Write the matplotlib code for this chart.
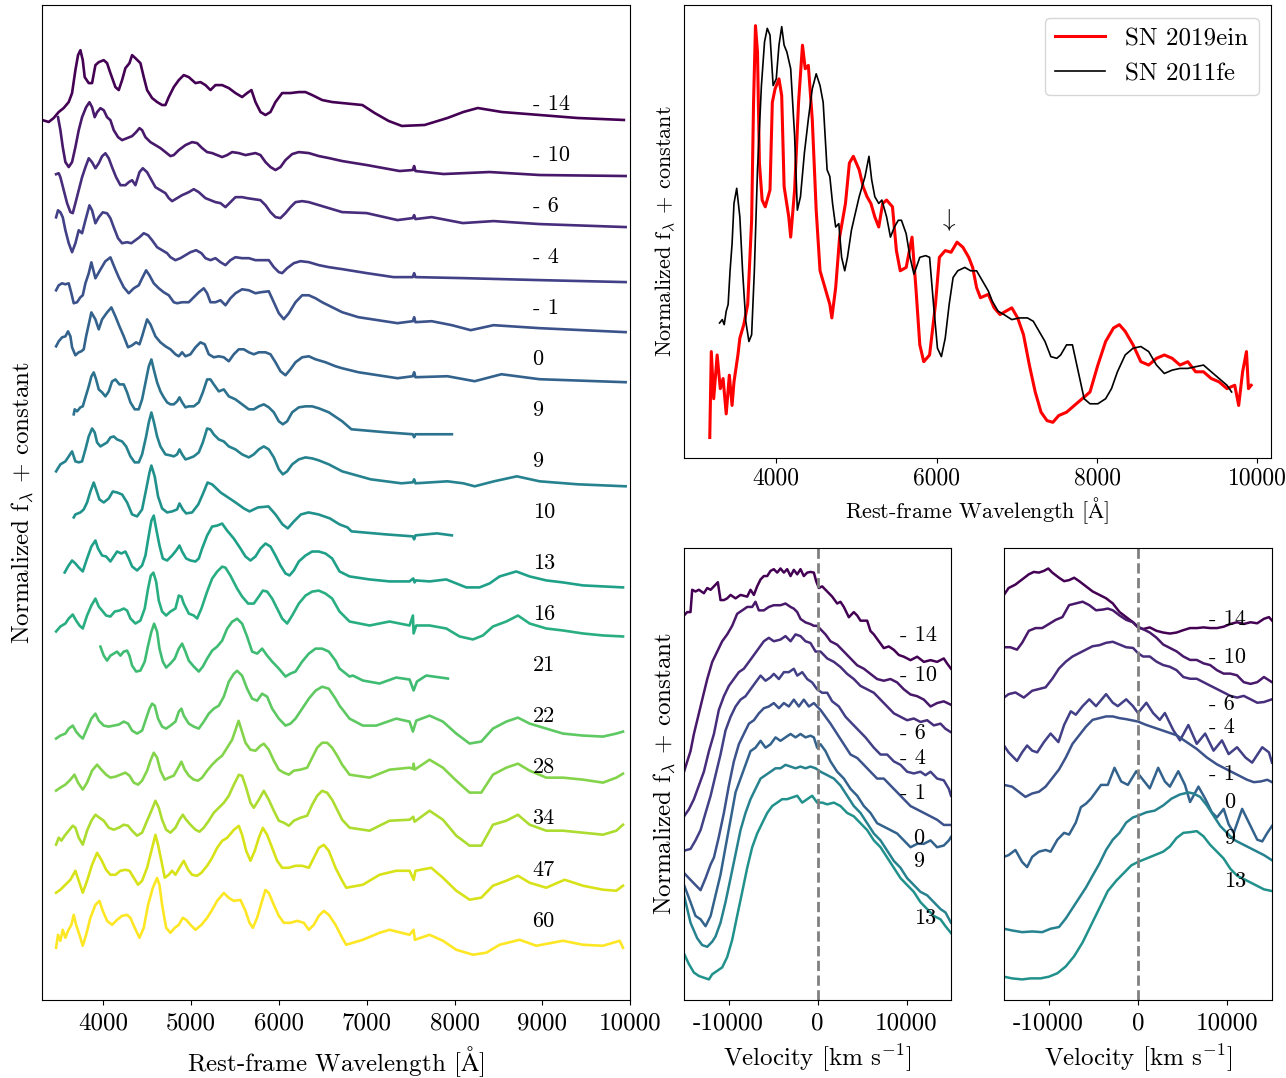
import matplotlib
matplotlib.use("Agg")
import matplotlib.pyplot as plt
import numpy as np

plt.rcParams['font.family'] = ['cmr10', 'DejaVu Serif']
plt.rcParams['mathtext.fontset'] = 'cm'
plt.rcParams['axes.unicode_minus'] = False
plt.rcParams['axes.formatter.use_mathtext'] = False
plt.rcParams['font.size'] = 18

# ---------------- left panel: spectral sequence, (wavelength, flux) in arbitrary flux units ----------------
phases = ["- 14", "- 10", "- 6", "- 4", "- 1", "0", "9", "9", "10", "13", "16",
          "21", "22", "28", "34", "47", "60"]

sp_m14 = [(3300,-16),(3376,-18),(3433,-14),(3490,-8),(3547,-4),(3604,2),(3642,11),(3680,34),(3710,49),(3737,54),(3764,44),(3786,27),(3832,21),(3870,21),(3908,39),(3946,42),(4003,44),(4041,41),(4079,31),(4136,17),(4174,14),(4212,24),(4250,36),(4296,41),(4326,49),(4364,46),(4421,41),(4459,27),(4497,14),(4554,6),(4611,2),(4668,-1),(4706,-1),(4744,7),(4801,17),(4858,24),(4915,29),(4972,27),(5048,21),(5105,22),(5162,19),(5219,14),(5276,19),(5352,19),(5428,16),(5504,11),(5580,7),(5637,11),(5686,14),(5732,2),(5789,-8),(5846,-11),(5903,-8),(5960,2),(6036,11),(6131,11),(6226,12),(6302,12),(6378,9),(6492,4),(6606,2),(6720,1),(6950,-1),(7090,-9),(7250,-17),(7400,-22),(7660,-21),(7920,-14),(8100,-8),(8265,-4),(8540,-8),(8970,-11),(9400,-14),(9930,-16)]
sp_m10 = [(3482,38),(3509,25),(3536,8),(3566,-7),(3604,-12),(3642,-7),(3680,8),(3718,25),(3756,38),(3802,48),(3840,53),(3870,48),(3900,38),(3927,43),(3965,47),(4003,45),(4041,38),(4079,35),(4117,25),(4166,18),(4212,15),(4269,17),(4326,19),(4372,23),(4410,27),(4440,25),(4478,18),(4535,13),(4592,10),(4649,7),(4706,3),(4763,-1),(4801,0),(4858,5),(4934,10),(5010,13),(5067,12),(5124,7),(5181,3),(5238,2),(5295,0),(5352,-2),(5409,0),(5466,3),(5542,2),(5618,0),(5675,1),(5732,2),(5789,0),(5846,-7),(5903,-12),(5960,-15),(6017,-12),(6074,-5),(6150,1),(6226,3),(6340,2),(6454,-1),(6568,-3),(6720,-6),(7000,-10),(7375,-16),(7525,-15),(7540,-11),(7555,-16),(7875,-19),(8400,-17),(8970,-20),(9950,-21)]
sp_m6 = [(3460,32),(3490,33),(3509,29),(3547,16),(3585,3),(3623,-6),(3650,-7),(3680,3),(3718,16),(3756,29),(3794,39),(3832,48),(3870,44),(3908,38),(3946,43),(3984,50),(4022,53),(4060,48),(4098,39),(4144,29),(4193,21),(4250,21),(4288,24),(4326,26),(4364,21),(4410,34),(4448,38),(4497,34),(4535,28),(4592,19),(4649,16),(4706,13),(4744,8),(4782,5),(4839,8),(4896,11),(4972,14),(5029,17),(5086,14),(5162,8),(5219,6),(5276,4),(5333,3),(5390,-1),(5447,4),(5504,9),(5580,9),(5637,8),(5713,7),(5789,6),(5846,1),(5903,-6),(5960,-11),(6017,-12),(6074,-7),(6131,-1),(6188,4),(6264,5),(6340,4),(6454,1),(6568,-2),(6720,-6),(7000,-7),(7350,-14),(7525,-12),(7540,-9),(7555,-13),(7740,-11),(8095,-17),(8445,-15),(8970,-18),(9950,-21)]
sp_m4 = [(3460,40),(3482,47),(3509,45),(3536,40),(3566,27),(3604,14),(3642,5),(3680,14),(3718,27),(3756,24),(3794,37),(3840,52),(3870,47),(3908,34),(3946,40),(3992,45),(4041,44),(4079,39),(4117,30),(4166,19),(4212,14),(4269,15),(4318,14),(4364,17),(4410,20),(4459,24),(4508,22),(4554,17),(4611,10),(4668,7),(4725,4),(4763,0),(4820,-3),(4877,-1),(4934,2),(4991,5),(5056,7),(5116,4),(5162,-1),(5219,-3),(5276,-1),(5333,-5),(5390,-8),(5447,-3),(5504,0),(5580,-1),(5656,-1),(5732,-3),(5808,-3),(5884,-3),(5941,-10),(5998,-15),(6036,-16),(6093,-11),(6169,-6),(6245,-4),(6340,-5),(6454,-8),(6568,-10),(6720,-12),(7000,-16),(7305,-20),(7525,-20),(7540,-16),(7555,-20),(8095,-21),(8970,-23),(9950,-25)]
sp_m1 = [(3460,18),(3490,23),(3528,25),(3566,24),(3604,25),(3634,15),(3661,5),(3699,6),(3737,11),(3764,13),(3794,25),(3832,35),(3862,46),(3908,30),(3960,38),(4020,47),(4079,51),(4130,40),(4174,31),(4231,21),(4288,15),(4345,20),(4402,23),(4440,30),(4486,38),(4524,33),(4573,25),(4630,20),(4687,16),(4744,13),(4801,6),(4839,5),(4896,6),(4972,6),(5029,11),(5086,16),(5143,20),(5181,15),(5219,6),(5276,6),(5333,8),(5390,3),(5447,10),(5504,15),(5580,19),(5656,18),(5732,15),(5789,16),(5884,17),(5941,6),(5998,-5),(6055,-11),(6112,-5),(6188,6),(6264,13),(6340,13),(6416,10),(6492,6),(6606,1),(6720,-4),(6905,-9),(7350,-15),(7525,-13),(7540,-9),(7555,-14),(7740,-13),(7970,-17),(8185,-22),(8445,-17),(8970,-20),(9950,-24)]
sp_p0 = [(3460,13),(3490,18),(3528,22),(3566,23),(3596,28),(3623,23),(3642,12),(3680,4),(3718,7),(3748,8),(3775,10),(3802,23),(3832,35),(3862,47),(3908,40),(3946,30),(3984,40),(4041,47),(4090,52),(4136,43),(4182,33),(4231,23),(4280,12),(4326,14),(4372,17),(4410,15),(4440,23),(4497,40),(4535,35),(4592,23),(4649,17),(4706,13),(4763,10),(4820,5),(4858,3),(4896,7),(4934,3),(4991,5),(5048,12),(5105,17),(5154,15),(5200,5),(5257,2),(5314,3),(5371,2),(5428,-2),(5485,5),(5542,10),(5599,10),(5656,7),(5713,5),(5770,7),(5846,7),(5903,5),(5960,-3),(6017,-12),(6074,-16),(6131,-10),(6188,-3),(6264,2),(6340,3),(6416,0),(6530,-3),(6644,-7),(6720,-9),(6905,-13),(7350,-19),(7525,-17),(7540,-13),(7555,-18),(7920,-17),(8230,-22),(8535,-15),(8970,-20),(9950,-23)]
sp_p9a = [(3661,-4),(3672,1),(3699,-1),(3737,3),(3764,4),(3794,13),(3832,24),(3862,34),(3889,38),(3916,31),(3946,21),(3984,18),(4022,14),(4060,19),(4098,29),(4136,31),(4182,26),(4231,26),(4269,18),(4307,8),(4356,1),(4402,1),(4440,11),(4486,31),(4516,44),(4546,51),(4573,41),(4611,28),(4649,19),(4687,13),(4725,8),(4763,6),(4801,6),(4839,9),(4866,13),(4896,8),(4934,3),(4972,4),(5029,4),(5086,8),(5132,18),(5181,31),(5219,31),(5257,26),(5314,19),(5371,21),(5428,14),(5504,11),(5580,6),(5656,1),(5713,1),(5770,4),(5827,6),(5884,3),(5941,-2),(5998,-11),(6044,-14),(6093,-11),(6150,-2),(6226,3),(6302,4),(6378,4),(6454,2),(6568,-2),(6720,-11),(6825,-19),(7215,-22),(7525,-24),(7540,-27),(7555,-24),(7970,-24)]
sp_p9b = [(3460,-10),(3509,-3),(3566,0),(3604,5),(3642,10),(3680,0),(3718,-1),(3756,0),(3794,12),(3832,25),(3870,33),(3900,29),(3927,19),(3965,15),(4003,17),(4041,19),(4079,24),(4117,25),(4155,22),(4212,20),(4258,15),(4307,5),(4356,-1),(4402,-1),(4440,7),(4486,25),(4516,39),(4546,49),(4573,40),(4611,25),(4649,15),(4706,7),(4763,6),(4801,5),(4839,7),(4866,12),(4896,7),(4934,2),(4972,3),(5029,5),(5086,9),(5132,19),(5181,33),(5219,32),(5257,27),(5314,22),(5371,20),(5428,15),(5504,12),(5580,7),(5656,4),(5713,7),(5770,12),(5827,15),(5884,12),(5941,4),(5998,-8),(6044,-13),(6093,-10),(6150,-3),(6226,2),(6302,4),(6378,3),(6454,1),(6568,-3),(6720,-10),(7045,-18),(7395,-22),(7525,-21),(7540,-18),(7555,-22),(7920,-20),(8100,-22),(8230,-25),(8450,-20),(8710,-15),(8970,-20),(9405,-23),(9950,-25)]
sp_p10 = [(3661,-5),(3680,-2),(3737,0),(3775,3),(3813,10),(3851,21),(3889,30),(3916,23),(3954,13),(4003,10),(4060,14),(4106,21),(4155,20),(4212,18),(4269,10),(4326,-2),(4383,-4),(4440,3),(4486,23),(4524,40),(4546,47),(4584,36),(4622,16),(4668,4),(4725,0),(4782,1),(4839,3),(4866,9),(4904,3),(4942,-1),(5010,0),(5080,8),(5130,18),(5186,30),(5240,28),(5335,20),(5420,15),(5505,10),(5600,4),(5665,1),(5760,5),(5880,6),(5960,-2),(6040,-12),(6100,-16),(6170,-9),(6250,-2),(6337,0),(6450,-2),(6580,-6),(6690,-12),(6780,-15),(6827,-19),(7215,-22),(7525,-24),(7540,-27),(7555,-23),(7800,-21),(7970,-23)]
sp_p13 = [(3558,-9),(3596,-3),(3642,3),(3680,0),(3718,-4),(3764,-8),(3813,5),(3862,17),(3908,23),(3938,15),(3984,8),(4030,7),(4079,2),(4117,7),(4155,12),(4204,10),(4250,12),(4288,5),(4326,-3),(4383,-7),(4440,-2),(4478,8),(4516,28),(4546,43),(4573,48),(4600,35),(4638,18),(4676,5),(4725,3),(4782,8),(4828,13),(4866,18),(4896,12),(4942,5),(4991,3),(5048,2),(5086,5),(5124,15),(5181,28),(5238,37),(5295,38),(5352,40),(5409,33),(5485,25),(5561,15),(5618,7),(5675,3),(5732,7),(5789,15),(5846,20),(5903,17),(5960,8),(6017,-2),(6074,-10),(6120,-12),(6169,-7),(6226,2),(6302,8),(6378,12),(6454,12),(6530,10),(6606,5),(6690,-8),(6804,-13),(7032,-16),(7260,-18),(7488,-18),(7530,-15),(7545,-19),(7560,-17),(7716,-18),(7906,-16),(8020,-20),(8134,-24),(8286,-24),(8400,-20),(8514,-13),(8704,-8),(8856,-13),(9046,-17),(9236,-19),(9464,-22),(9692,-23),(9920,-24)]
sp_p16 = [(3460,-17),(3509,-12),(3566,-9),(3604,-4),(3650,0),(3688,-6),(3726,-11),(3764,-14),(3813,-1),(3862,9),(3908,16),(3946,8),(3984,4),(4030,-1),(4079,-2),(4128,3),(4182,4),(4231,6),(4269,4),(4307,-4),(4364,-9),(4421,-6),(4470,6),(4508,26),(4539,39),(4569,42),(4600,33),(4630,14),(4668,3),(4714,-1),(4763,3),(4820,6),(4858,19),(4888,18),(4915,11),(4972,1),(5029,-1),(5067,-4),(5116,6),(5181,23),(5238,36),(5295,43),(5352,48),(5390,47),(5447,39),(5523,26),(5580,18),(5648,11),(5713,11),(5770,18),(5816,24),(5865,23),(5922,16),(5979,6),(6036,-4),(6093,-9),(6150,-1),(6226,11),(6302,19),(6378,23),(6454,24),(6530,21),(6606,16),(6690,3),(6804,-7),(7032,-11),(7260,-7),(7488,-11),(7526,-1),(7534,-19),(7564,-11),(7716,-11),(7906,-14),(8058,-22),(8210,-25),(8324,-21),(8438,-12),(8590,-7),(8723,-1),(8856,-9),(9046,-14),(9236,-16),(9464,-19),(9692,-21),(9920,-22)]
sp_p21 = [(3965,19),(4003,10),(4041,5),(4079,10),(4117,12),(4155,14),(4193,10),(4231,14),(4269,15),(4296,10),(4326,0),(4372,-6),(4421,-5),(4470,4),(4508,20),(4546,34),(4577,42),(4611,34),(4638,17),(4676,4),(4714,-2),(4763,2),(4812,7),(4858,17),(4896,22),(4934,14),(4972,5),(5029,-1),(5086,-6),(5132,-1),(5181,7),(5238,15),(5295,19),(5352,25),(5409,37),(5466,44),(5523,47),(5580,42),(5637,29),(5694,14),(5751,12),(5808,17),(5865,10),(5922,4),(5998,-3),(6074,-11),(6131,-8),(6188,-6),(6264,4),(6340,12),(6416,17),(6492,17),(6568,14),(6644,5),(6690,-3),(6804,-11),(6842,-10),(6956,-15),(7146,-18),(7336,-12),(7488,-14),(7534,-25),(7572,-16),(7678,-10),(7925,-13)]
sp_p22 = [(3460,-22),(3509,-19),(3566,-17),(3604,-12),(3650,-9),(3688,-15),(3726,-19),(3764,-22),(3813,-12),(3862,-2),(3908,3),(3946,-4),(4003,-9),(4060,-10),(4117,-9),(4174,-8),(4231,-5),(4280,-7),(4326,-14),(4383,-17),(4440,-14),(4486,-2),(4524,8),(4554,13),(4584,11),(4622,-2),(4668,-10),(4714,-12),(4763,-9),(4820,-5),(4858,5),(4888,8),(4915,1),(4972,-7),(5029,-10),(5086,-12),(5143,-5),(5200,3),(5257,8),(5314,11),(5371,20),(5428,35),(5485,43),(5523,46),(5580,41),(5637,28),(5694,18),(5751,16),(5808,23),(5865,20),(5922,8),(5998,-2),(6074,-9),(6131,-7),(6188,-2),(6264,8),(6340,18),(6416,26),(6492,30),(6568,28),(6644,18),(6690,11),(6804,-2),(6956,-9),(7108,-9),(7336,-2),(7488,-5),(7526,-15),(7564,-4),(7716,1),(7868,-5),(8020,-17),(8172,-27),(8305,-25),(8438,-12),(8590,-5),(8723,-1),(8856,-7),(9046,-12),(9236,-17),(9464,-19),(9692,-20),(9844,-17),(9920,-15)]
sp_p28 = [(3460,-23),(3509,-20),(3566,-17),(3623,-12),(3669,-7),(3710,-15),(3764,-22),(3813,-15),(3870,-3),(3927,3),(3976,-2),(4030,-7),(4079,-10),(4136,-9),(4193,-7),(4250,-5),(4296,-8),(4345,-15),(4394,-17),(4440,-13),(4497,-3),(4535,7),(4573,15),(4611,10),(4649,-3),(4698,-12),(4744,-10),(4801,-8),(4839,-2),(4888,6),(4926,-2),(4972,-8),(5029,-12),(5078,-13),(5124,-10),(5181,-3),(5238,3),(5295,8),(5352,12),(5409,20),(5466,28),(5540,47),(5618,25),(5675,18),(5732,17),(5789,22),(5827,24),(5884,18),(5941,7),(5998,-2),(6055,-5),(6112,-7),(6169,-3),(6245,-2),(6321,0),(6378,10),(6435,20),(6492,25),(6549,25),(6606,20),(6663,12),(6720,3),(6804,-7),(7032,-10),(7260,-2),(7488,0),(7526,-1),(7534,4),(7545,-2),(7716,8),(7868,0),(8020,-13),(8172,-25),(8305,-25),(8438,-7),(8590,0),(8723,4),(8856,-3),(9046,-10),(9236,-10),(9464,-12),(9692,-15),(9844,-10),(9920,-6)]
sp_p34 = [(3460,-26),(3490,-19),(3520,-22),(3558,-17),(3604,-12),(3650,-7),(3680,-9),(3718,-19),(3764,-26),(3813,-12),(3862,-2),(3908,4),(3954,1),(4003,-2),(4060,-9),(4117,-11),(4174,-9),(4231,-6),(4280,-7),(4326,-12),(4383,-17),(4440,-14),(4497,-2),(4546,8),(4592,18),(4630,11),(4668,-1),(4714,-11),(4763,-14),(4820,-9),(4866,-1),(4904,4),(4942,-1),(4991,-6),(5048,-11),(5094,-13),(5143,-9),(5200,-2),(5257,6),(5314,11),(5371,16),(5428,23),(5485,34),(5542,44),(5580,43),(5626,31),(5675,16),(5713,11),(5770,19),(5827,28),(5884,19),(5941,8),(5998,-2),(6055,-4),(6112,-7),(6169,-2),(6245,1),(6321,3),(6378,14),(6435,23),(6492,28),(6549,26),(6606,19),(6663,9),(6720,-1),(6804,-9),(7032,-12),(7260,-2),(7488,-1),(7530,2),(7545,-3),(7716,8),(7868,-1),(8020,-17),(8172,-27),(8305,-27),(8438,-6),(8590,-2),(8723,4),(8856,-6),(9046,-12),(9236,-12),(9464,-14),(9692,-16),(9844,-12),(9920,-6)]
sp_p47 = [(3460,-23),(3509,-20),(3566,-15),(3623,-10),(3680,-1),(3718,-11),(3764,-23),(3813,-11),(3870,5),(3927,17),(3976,10),(4030,0),(4079,-5),(4136,-5),(4193,-1),(4250,0),(4296,-1),(4345,-8),(4394,-15),(4440,-11),(4497,2),(4546,19),(4592,35),(4622,25),(4660,9),(4698,-8),(4744,-5),(4782,-1),(4820,-5),(4866,2),(4915,9),(4964,0),(5010,-5),(5067,-6),(5116,-3),(5181,4),(5238,12),(5295,22),(5352,29),(5409,32),(5485,40),(5542,44),(5580,35),(5626,19),(5675,9),(5724,19),(5770,32),(5816,42),(5865,35),(5922,22),(5979,9),(6036,2),(6112,2),(6188,4),(6264,4),(6340,2),(6397,12),(6454,22),(6511,25),(6568,19),(6644,2),(6720,-11),(6766,-18),(6956,-15),(7146,-5),(7336,-1),(7488,-1),(7535,-10),(7555,-1),(7735,2),(7868,-8),(8020,-21),(8172,-30),(8305,-28),(8438,-16),(8590,-11),(8723,-6),(8856,-13),(9046,-18),(9255,-10),(9464,-16),(9692,-20),(9844,-21),(9920,-16)]
sp_p60 = [(3460,-27),(3482,-14),(3509,-20),(3536,-9),(3566,-17),(3596,-10),(3634,-4),(3661,6),(3688,-4),(3726,-14),(3764,-25),(3802,-14),(3851,3),(3908,16),(3954,20),(3992,10),(4041,0),(4098,-4),(4155,1),(4212,5),(4269,6),(4307,3),(4356,-7),(4410,-17),(4459,-7),(4508,16),(4562,33),(4611,43),(4638,36),(4668,16),(4714,-7),(4763,-12),(4812,-7),(4858,-4),(4904,3),(4942,1),(4991,-4),(5048,-9),(5116,-4),(5181,3),(5238,11),(5295,20),(5371,28),(5428,23),(5485,20),(5561,21),(5618,10),(5664,-2),(5702,-7),(5751,3),(5800,18),(5846,31),(5884,28),(5941,16),(5998,5),(6055,-2),(6131,-2),(6207,0),(6283,-2),(6340,-9),(6397,-4),(6454,5),(6511,10),(6568,6),(6644,-4),(6720,-17),(6766,-24),(6956,-19),(7146,-12),(7260,-9),(7488,-14),(7534,-9),(7548,-19),(7716,-14),(7868,-20),(8020,-29),(8210,-34),(8362,-32),(8514,-24),(8742,-19),(8932,-25),(9236,-20),(9464,-24),(9692,-25),(9882,-20),(9920,-27)]

sequence = [sp_m14, sp_m10, sp_m6, sp_m4, sp_m1, sp_p0, sp_p9a, sp_p9b, sp_p10, sp_p13, sp_p16,
            sp_p21, sp_p22, sp_p28, sp_p34, sp_p47, sp_p60]

# ---------------- top right: comparison with SN 2011fe ----------------
w_19ein = [3171,3190,3220,3263,3302,3337,3376,3415,3449,3473,3522,3546,3595,3644,3693,3717,3741,3766,3790,3824,3863,3922,3951,3985,4034,4068,4098,4156,4180,4229,4278,4327,4361,4400,4449,4498,4546,4595,4668,4693,4741,4790,4863,4912,4961,5034,5083,5132,5180,5229,5278,5327,5376,5449,5498,5546,5620,5693,5741,5790,5839,5912,5985,6034,6107,6180,6254,6327,6400,6449,6498,6546,6644,6717,6790,6863,6937,7010,7083,7156,7229,7302,7376,7449,7522,7620,7717,7815,7912,8010,8107,8205,8278,8351,8449,8546,8644,8741,8839,8937,9034,9132,9229,9327,9424,9522,9620,9717,9766,9815,9863,9888,9922]
f_19ein = [5,260,120,250,150,180,75,190,100,170,250,300,340,400,650,1000,1228,1150,820,710,690,740,1000,1040,1070,1020,750,660,600,740,1000,1170,1100,1110,950,680,500,460,400,360,450,600,700,820,840,800,750,720,700,660,630,700,710,690,560,500,510,600,450,280,230,250,400,540,560,555,585,570,540,510,450,420,430,390,370,380,390,360,310,220,140,80,55,50,70,80,100,120,140,220,290,330,340,320,280,230,220,240,250,240,220,230,200,200,180,170,150,160,100,200,260,150,160]

w_11fe = [3293,3327,3351,3376,3400,3424,3449,3473,3507,3546,3580,3620,3659,3693,3727,3766,3815,3854,3888,3922,3961,4000,4034,4068,4098,4132,4180,4229,4263,4302,4351,4400,4449,4498,4546,4585,4634,4668,4702,4741,4780,4815,4854,4888,4937,4985,5034,5107,5156,5190,5229,5278,5317,5376,5424,5473,5522,5561,5620,5668,5717,5790,5863,5912,5961,6010,6059,6107,6156,6205,6263,6351,6424,6498,6571,6644,6693,6766,6839,6937,7034,7132,7205,7278,7351,7424,7498,7546,7620,7693,7766,7839,7912,8010,8107,8180,8254,8351,8449,8546,8644,8741,8839,8937,9034,9132,9229,9327,9424,9522,9620,9678]
f_11fe = [345,355,340,380,400,500,580,700,745,660,500,350,290,310,500,800,1050,1180,1220,1200,1050,1070,1170,1225,1170,1150,1100,900,680,720,850,950,1040,1085,1050,1000,800,780,700,630,640,540,500,540,620,670,720,780,840,770,720,700,710,660,600,630,650,650,610,540,490,540,545,540,400,270,245,300,400,480,500,510,500,500,470,440,410,380,370,355,360,360,350,320,290,245,240,250,280,280,200,120,105,105,120,150,200,250,270,275,260,220,195,205,210,210,215,220,200,180,160,140]

# ---------------- bottom panels: velocity profiles, (km/s, flux) in arbitrary units ----------------
vel_phases = ["- 14", "- 10", "- 6", "- 4", "- 1", "0", "9", "13"]
vel_color_pos = [0, 1, 2, 3, 4, 5, 7, 8]

a_m14 = [(-15000,1125),(-14640,1135),(-14270,1135),(-14080,1200),(-13710,1195),(-13330,1200),(-12770,1190),(-12390,1205),(-12010,1200),(-11640,1210),(-11200,1222),(-10900,1170),(-10520,1170),(-10150,1175),(-9770,1185),(-9210,1175),(-8650,1185),(-7900,1180),(-7530,1200),(-7150,1185),(-6780,1210),(-6400,1230),(-6030,1240),(-5650,1240),(-5280,1255),(-4910,1260),(-4530,1250),(-4160,1262),(-3780,1250),(-3410,1260),(-3030,1240),(-2660,1258),(-2280,1245),(-1910,1260),(-1540,1240),(-1160,1250),(-790,1252),(-410,1250),(-150,1225),(150,1205),(520,1210),(1090,1195),(1650,1180),(2210,1160),(2580,1165),(2960,1150),(3520,1120),(4080,1135),(4460,1125),(4830,1110),(5580,1110),(5950,1080),(6330,1070),(6890,1050),(7450,1030),(8010,1035),(8580,1025),(9140,1010),(9700,1005),(10450,995),(11200,1005),(11950,990),(12700,995),(13440,990),(14190,1000),(14570,985),(15000,970)]
a_m10 = [(-15000,670),(-14640,700),(-14270,730),(-13890,780),(-13330,840),(-12770,900),(-12390,940),(-11830,990),(-11270,1020),(-10710,1050),(-10150,1070),(-9590,1095),(-9030,1130),(-8460,1140),(-7900,1150),(-7340,1150),(-6970,1165),(-6590,1140),(-6030,1140),(-5470,1150),(-4910,1155),(-4160,1155),(-3600,1160),(-3030,1150),(-2660,1145),(-2280,1135),(-1910,1115),(-1350,1105),(-790,1100),(-410,1095),(-40,1095),(340,1085),(900,1070),(1460,1050),(2210,1040),(2960,1020),(3710,1000),(4460,980),(5210,970),(5950,955),(6700,940),(7450,935),(8200,940),(8950,930),(9700,910),(10450,895),(11200,890),(11950,880),(12700,860),(13440,870),(14190,875),(15000,865)]
a_m6 = [(-15000,540),(-14460,560),(-13890,590),(-13330,630),(-12770,670),(-12200,730),(-11640,780),(-11090,850),(-10520,890),(-9960,920),(-9400,940),(-8840,960),(-8280,970),(-7710,990),(-7150,1010),(-6590,1030),(-6030,1050),(-5470,1060),(-4910,1050),(-4160,1055),(-3600,1065),(-3030,1050),(-2470,1070),(-1910,1065),(-1350,1050),(-790,1045),(-220,1020),(340,1020),(1090,1000),(1840,990),(2580,975),(3330,955),(4080,940),(4830,920),(5580,910),(6330,900),(7080,880),(7830,860),(8580,840),(9330,830),(10070,820),(10820,825),(11570,815),(12320,820),(13070,805),(13820,810),(14380,795),(15000,785)]
a_m4 = [(-15000,440),(-14270,445),(-13710,470),(-13140,500),(-12580,550),(-12010,600),(-11460,660),(-10900,720),(-10340,790),(-9770,830),(-9210,860),(-8650,880),(-8090,890),(-7530,910),(-6970,930),(-6400,950),(-5840,935),(-5280,945),(-4910,955),(-4340,940),(-3780,960),(-3220,960),(-2660,970),(-2280,950),(-1720,960),(-1160,940),(-600,930),(-40,910),(520,900),(1090,900),(1650,875),(2400,860),(3150,830),(3890,810),(4640,790),(5390,770),(6330,740),(7080,720),(7830,720),(8580,700),(9330,690),(10070,670),(10820,665),(11570,670),(12130,660),(12700,670),(13440,650),(14190,645),(14760,620),(15000,600)]
a_m1 = [(-15000,375),(-14270,355),(-13710,340),(-13140,325),(-12580,360),(-12010,400),(-11640,420),(-11090,480),(-10520,550),(-9960,630),(-9400,700),(-8840,750),(-8280,780),(-7710,810),(-7150,820),(-6590,840),(-6030,855),(-5470,860),(-4910,870),(-4340,855),(-3780,870),(-3220,860),(-2660,880),(-2100,860),(-1540,880),(-970,860),(-410,870),(-40,860),(340,850),(900,830),(1460,810),(2210,780),(2960,750),(3710,720),(4460,710),(5210,690),(5950,670),(6700,650),(7450,650),(8200,630),(8950,610),(9700,590),(10450,570),(11200,560),(11950,550),(12700,540),(13440,530),(14190,515),(15000,515)]
a_p0 = [(-15000,340),(-14270,290),(-13710,250),(-13140,240),(-12580,220),(-12010,250),(-11460,310),(-10900,370),(-10340,450),(-9770,530),(-9210,610),(-8650,650),(-8090,690),(-7530,730),(-6970,740),(-6400,760),(-5840,740),(-5280,750),(-4720,770),(-4160,760),(-3600,770),(-3030,780),(-2470,770),(-1910,780),(-1350,770),(-790,775),(-410,770),(-40,740),(340,750),(900,730),(1460,700),(2210,670),(2960,650),(3710,620),(4460,600),(5210,570),(5950,550),(6700,520),(7450,510),(8200,500),(8950,490),(9700,470),(10450,450),(11200,460),(11950,460),(12700,470),(13440,450),(14190,455),(14760,470),(15000,480)]
a_p9 = [(-15000,310),(-14270,230),(-13520,185),(-12960,165),(-12390,160),(-11830,175),(-11460,190),(-10900,230),(-10340,290),(-9770,360),(-9210,430),(-8650,500),(-8090,550),(-7530,590),(-6970,620),(-6400,650),(-5840,660),(-5280,670),(-4720,680),(-4160,680),(-3600,690),(-3030,685),(-2470,680),(-1910,685),(-1350,680),(-790,685),(-220,680),(340,670),(1090,660),(1840,650),(2580,630),(3330,600),(4080,570),(4830,550),(5580,520),(6330,490),(7080,470),(7830,440),(8580,410),(9330,390),(10070,360),(10820,340),(11570,320),(12320,310),(13070,290),(13820,270),(14380,260),(15000,230)]
a_p13 = [(-15000,140),(-14460,110),(-13890,85),(-13330,75),(-12770,70),(-12200,65),(-11830,80),(-11270,90),(-10710,100),(-10150,130),(-9590,180),(-9030,250),(-8460,320),(-7900,390),(-7340,450),(-6780,490),(-6220,520),(-5650,550),(-5090,570),(-4530,580),(-3970,590),(-3410,590),(-2850,595),(-2280,600),(-1720,580),(-1160,590),(-600,600),(-40,580),(520,580),(1090,575),(1840,580),(2580,570),(3330,550),(4080,540),(4830,520),(5580,500),(6330,470),(7080,450),(7830,420),(8580,390),(9330,360),(10070,340),(10820,320),(11570,290),(12320,270),(13070,250),(13820,240),(14380,220),(15000,200)]

b_m14 = [(-15000,1185),(-14480,1205),(-13720,1215),(-12970,1230),(-12220,1245),(-11660,1252),(-11090,1250),(-10530,1255),(-10040,1262),(-9590,1250),(-8840,1235),(-8270,1225),(-7710,1228),(-7140,1235),(-6580,1225),(-5830,1210),(-5080,1195),(-4320,1185),(-3570,1175),(-2820,1160),(-2070,1135),(-1320,1120),(-560,1105),(0,1090),(560,1085),(1320,1090),(2070,1080),(2820,1075),(3570,1072),(4320,1075),(5080,1082),(5830,1088),(6580,1088),(7330,1090),(8080,1088),(8840,1088),(9590,1092),(10340,1100),(11090,1105),(11840,1100),(12600,1105),(13350,1102),(14100,1115),(14660,1120),(15000,1110)]
b_m10 = [(-15000,1032),(-14290,1032),(-13540,1025),(-12970,1045),(-12220,1080),(-11470,1088),(-10720,1088),(-9960,1100),(-9210,1112),(-8460,1120),(-7710,1155),(-6960,1160),(-6200,1165),(-5450,1155),(-4700,1140),(-3950,1142),(-3380,1145),(-2820,1140),(-2070,1125),(-1320,1112),(-560,1105),(0,1092),(560,1085),(1320,1075),(2070,1060),(2820,1040),(3570,1030),(4320,1020),(5080,1005),(5830,995),(6580,995),(7330,985),(8080,980),(8840,965),(9590,955),(10340,955),(11090,950),(11840,930),(12600,925),(13350,930),(14100,945),(15000,930)]
b_m6 = [(-15000,885),(-14480,895),(-13720,900),(-12780,885),(-11840,905),(-10340,915),(-9590,940),(-8840,970),(-8080,990),(-7330,1005),(-6580,1015),(-5830,1025),(-5080,1035),(-4320,1038),(-3570,1045),(-2820,1048),(-2070,1040),(-1320,1032),(-560,1030),(0,1015),(560,1005),(1320,1005),(2070,990),(2820,980),(3570,975),(4320,965),(5080,945),(5830,940),(6580,940),(7330,930),(8080,920),(8840,910),(9590,900),(10340,890),(11090,885),(11840,890),(12600,880),(13350,870),(14100,872),(15000,880)]
b_m4 = [(-15000,745),(-14480,725),(-13540,700),(-12970,725),(-12410,745),(-11840,730),(-11280,725),(-10530,755),(-9780,780),(-8910,755),(-8270,805),(-7520,845),(-6960,835),(-6200,860),(-5450,880),(-4700,860),(-3570,895),(-2820,870),(-2260,860),(-1320,880),(-560,860),(0,840),(940,870),(1690,840),(2440,820),(3010,840),(3950,790),(4700,760),(5640,805),(6580,750),(7520,780),(8460,730),(9400,760),(10150,720),(11090,740),(12030,710),(12780,695),(13910,740),(14660,725),(15000,695)]
b_m1 = [(-15000,630),(-14100,625),(-13350,610),(-12600,595),(-11840,605),(-11090,610),(-10340,625),(-9590,650),(-8840,675),(-8080,710),(-7330,750),(-6580,775),(-5830,800),(-5080,820),(-4320,825),(-3570,830),(-2820,830),(-2070,825),(-1320,822),(-560,818),(0,815),(940,805),(2070,795),(3200,785),(4320,775),(5450,755),(6580,735),(7710,710),(8840,690),(9960,675),(11090,660),(12220,645),(12970,638),(13720,640),(14480,645),(15000,638)]
b_p0 = [(-15000,420),(-14480,425),(-13720,440),(-12970,405),(-12410,390),(-11840,420),(-11090,435),(-10340,440),(-9780,435),(-9020,470),(-8270,490),(-7710,485),(-6960,520),(-6390,565),(-5830,575),(-5260,590),(-4700,610),(-4140,630),(-3380,630),(-2630,680),(-1880,640),(-1130,630),(-190,670),(560,645),(1320,620),(2260,680),(3010,640),(3570,625),(4510,670),(5260,630),(5830,580),(6770,625),(7520,590),(8270,550),(8840,535),(9590,560),(10150,515),(10720,490),(11660,560),(12600,510),(13350,470),(13910,465),(14480,490),(15000,510)]
b_p9 = [(-15000,210),(-14100,205),(-12970,200),(-11840,202),(-10720,200),(-9780,210),(-8840,215),(-8080,240),(-7330,270),(-6580,300),(-5830,330),(-5080,365),(-4320,400),(-3570,440),(-2820,470),(-2070,490),(-1320,520),(-560,535),(0,540),(940,550),(1880,555),(2820,570),(3760,590),(4700,602),(5640,608),(6200,605),(6960,595),(7710,570),(8460,540),(9210,510),(9960,490),(10720,470),(11840,455),(12970,440),(14100,425),(15000,410)]
b_p13 = [(-15000,70),(-14100,65),(-12970,62),(-12030,65),(-10900,65),(-9960,70),(-9020,80),(-8080,100),(-7140,130),(-6200,170),(-5260,220),(-4320,270),(-3380,320),(-2440,350),(-1500,375),(-750,395),(0,405),(940,415),(1880,425),(2820,435),(3570,450),(4320,475),(5080,490),(5830,492),(6580,495),(7330,480),(8080,455),(8840,435),(9590,415),(10340,385),(11090,365),(12220,350),(13350,335),(14100,325),(15000,320)]

panel_a = [a_m14, a_m10, a_m6, a_m4, a_m1, a_p0, a_p9, a_p13]
panel_b = [b_m14, b_m10, b_m6, b_m4, b_m1, b_p0, b_p9, b_p13]

# label anchors (velocity, flux) for each curve
a_lab_v = [9300, 9300, 9300, 9300, 9300, 10800, 10800, 10800]
a_lab_f = [1067, 950, 783, 710, 608, 477, 410, 242]
b_lab_v = [7900, 7900, 7900, 7900, 7900, 9590, 9590, 9590]
b_lab_f = [1115, 1002, 865, 797, 660, 580, 475, 350]

colors = plt.cm.viridis(np.linspace(0, 1, len(phases)))
step = 51.2

fig = plt.figure(figsize=(12.86, 10.78), dpi=100)
ax1 = fig.add_axes([0.0327, 0.0724, 0.4572, 0.923])
ax2 = fig.add_axes([0.5319, 0.5751, 0.4565, 0.4202])
ax3 = fig.add_axes([0.5319, 0.0724, 0.2076, 0.4193])
ax4 = fig.add_axes([0.7807, 0.0724, 0.2084, 0.4193])

for i, spec in enumerate(sequence):
    w, f = np.array(spec).T
    ax1.plot(w, f - i * step, color=colors[i], lw=1.9, solid_joinstyle='round')
    ax1.text(8890, -i * step, phases[i], fontsize=16, ha='left', va='center')
ax1.set_xlim(3300, 10000)
ax1.set_yticks([])
ax1.set_xlabel(r'Rest-frame Wavelength [$\mathrm{\AA}$]', fontsize=18, labelpad=7)
ax1.set_ylabel(r'Normalized f$_{\lambda}$ + constant', fontsize=18)
ax1.tick_params(labelsize=18, pad=5.5)

ax2.plot(w_19ein, f_19ein, color='red', lw=2.2, label='SN 2019ein')
ax2.plot(w_11fe, f_11fe, color='black', lw=1.2, label='SN 2011fe')
ax2.text(6130, 650, r'$\downarrow$', fontsize=18, ha='center', va='center')
ax2.set_xlim(2850, 10170)
ax2.set_xticks([4000, 6000, 8000, 10000])
ax2.set_yticks([])
ax2.set_xlabel(r'Rest-frame Wavelength [$\mathrm{\AA}$]', fontsize=16)
ax2.set_ylabel(r'Normalized f$_{\lambda}$ + constant', fontsize=16)
ax2.tick_params(labelsize=17)
ax2.legend(loc='upper right', fontsize=18)

for ax, curves, lv, lf in [(ax3, panel_a, a_lab_v, a_lab_f), (ax4, panel_b, b_lab_v, b_lab_f)]:
    for k, c in enumerate(curves):
        v, fl = zip(*c)
        ax.plot(v, fl, color=colors[vel_color_pos[k]], lw=1.8)
        ax.text(lv[k], lf[k], vel_phases[k], fontsize=16, ha='left', va='center')
    ax.axvline(0, color='gray', ls='--', lw=2)
    ax.set_xlim(-15000, 15000)
    ax.set_xticks([-10000, 0, 10000])
    ax.set_yticks([])
    ax.set_xlabel(r'Velocity [km s$^{-1}$]', fontsize=18, labelpad=6)
    ax.tick_params(labelsize=18, pad=5.5)
ax3.set_ylabel(r'Normalized f$_{\lambda}$ + constant', fontsize=18)

fig.savefig('out.png', dpi=100)
